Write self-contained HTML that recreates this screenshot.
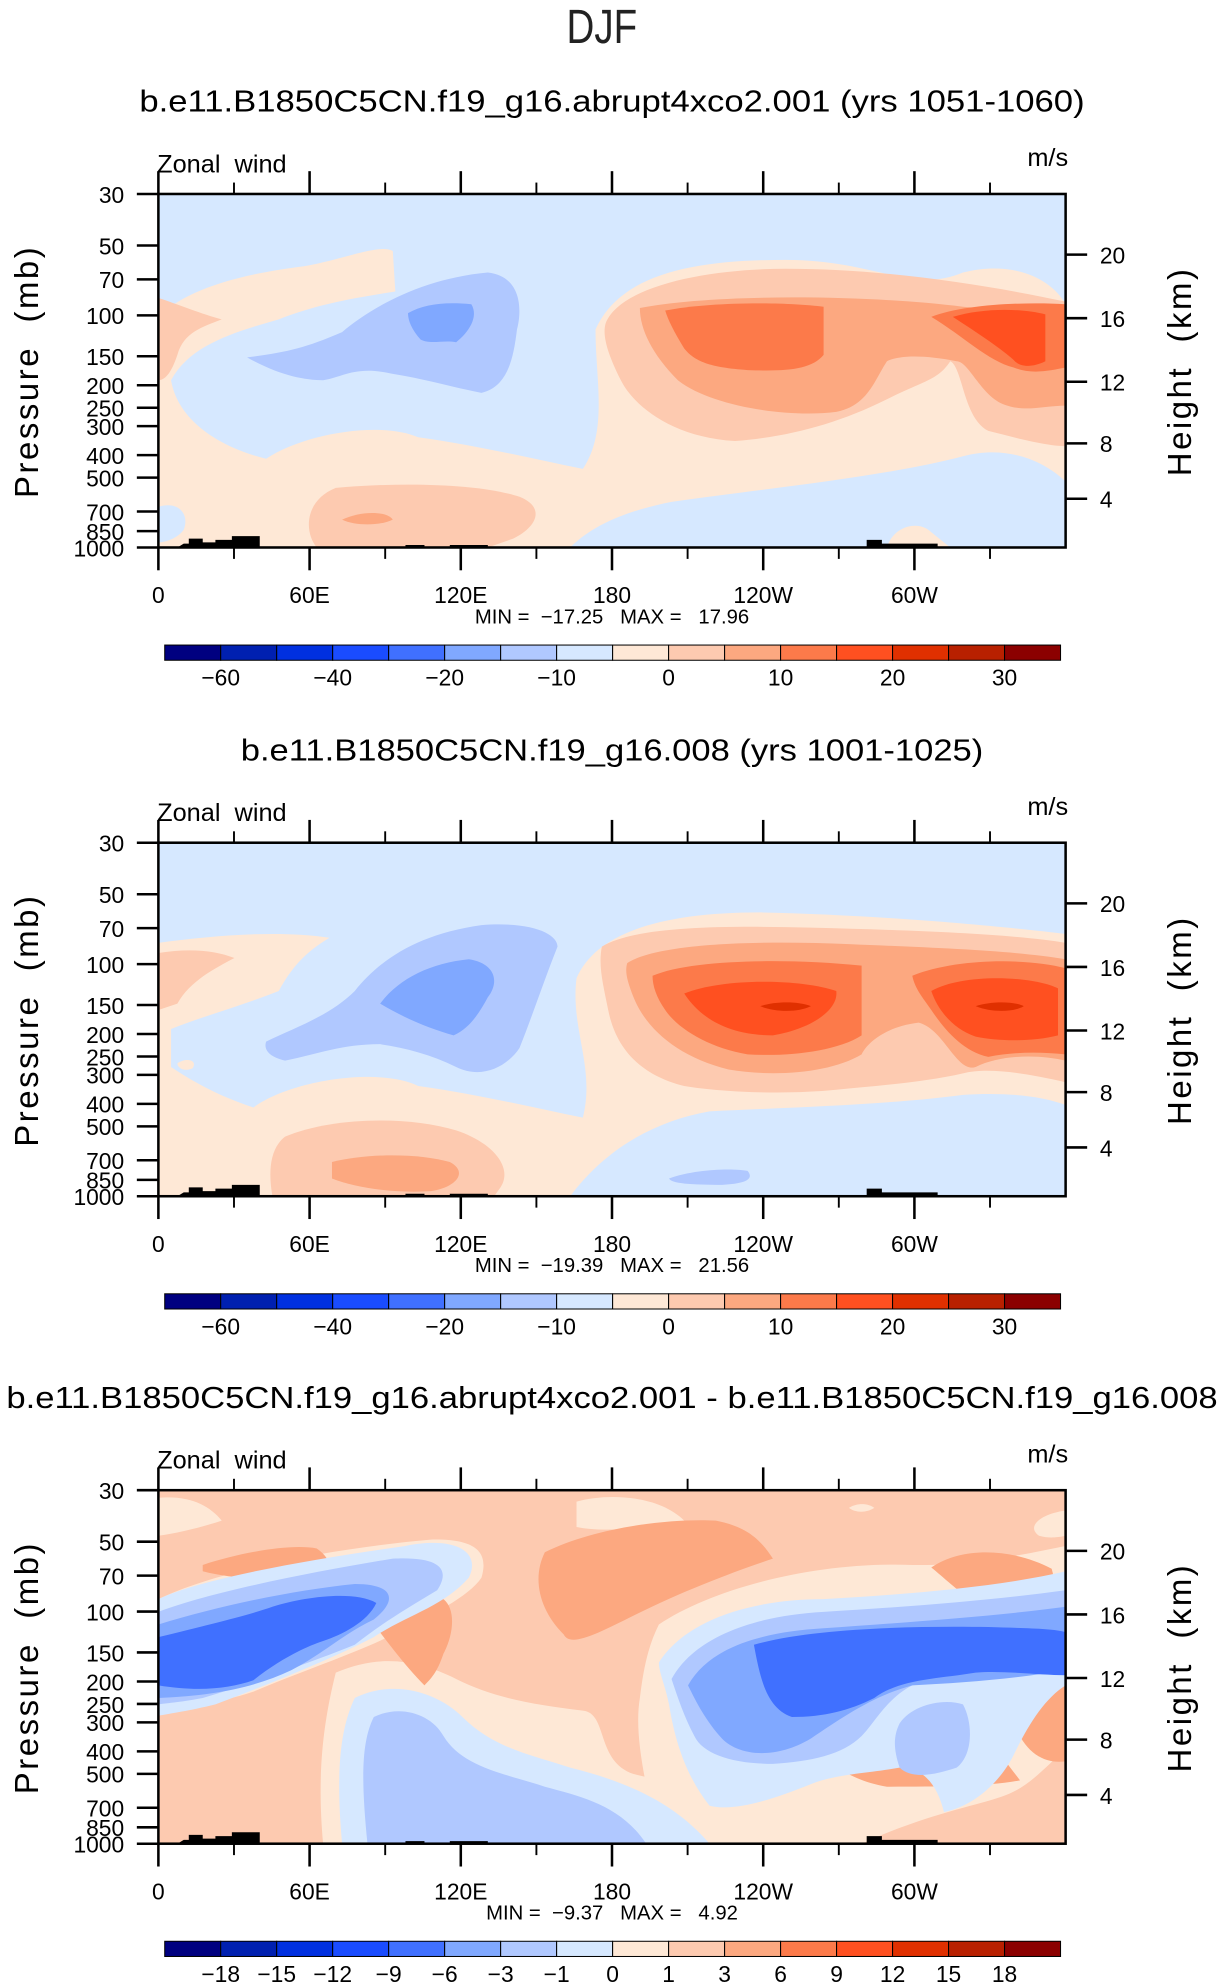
<!DOCTYPE html>
<html><head><meta charset="utf-8"><style>
html,body{margin:0;padding:0;background:#fff;}
svg{display:block;font-family:"Liberation Sans",sans-serif;}
text{white-space:pre;}
</style></head><body>
<svg id="fig" xmlns="http://www.w3.org/2000/svg" xml:space="preserve" width="1224" height="1987" viewBox="0 0 966 1568">
<text x="475" y="34" font-size="38" text-anchor="middle" font-weight="100" fill="#222" transform="translate(475,0) scale(0.8,1) translate(-475,0)">DJF</text>
<text x="483" y="88" font-size="24" text-anchor="middle" textLength="746" lengthAdjust="spacingAndGlyphs">b.e11.B1850C5CN.f19_g16.abrupt4xco2.001 (yrs 1051-1060)</text>
<text x="483" y="600" font-size="24" text-anchor="middle" textLength="586" lengthAdjust="spacingAndGlyphs">b.e11.B1850C5CN.f19_g16.008 (yrs 1001-1025)</text>
<text x="483" y="1111" font-size="24" text-anchor="middle" textLength="956" lengthAdjust="spacingAndGlyphs">b.e11.B1850C5CN.f19_g16.abrupt4xco2.001 - b.e11.B1850C5CN.f19_g16.008</text>
<defs><clipPath id="pc"><rect x="125" y="153" width="716" height="279"/></clipPath></defs>

<g clip-path="url(#pc)">
<rect x="125" y="153" width="716" height="279" fill="#d6e8ff"/>
<path fill="#fee8d6" d="M125,250 C150,225 200,215 240,210 C270,205 300,192 310,198 L312,230 C280,235 250,240 220,252 C185,262 150,272 135,300 C140,330 170,352 210,362 C240,342 300,332 330,345 C380,352 420,362 460,370 C480,340 470,300 470,260 C490,215 550,205 620,205 C690,205 720,232 760,215 C800,205 830,220 841,240 L841,380 C820,360 790,352 760,360 C700,376 600,386 530,396 C500,402 470,412 450,432 L125,432 Z"/>
<path fill="#d6e8ff" d="M125,400 C140,395 150,405 145,418 C140,425 130,428 125,428 Z"/>
<path fill="#fee8d6" d="M700,432 C705,415 725,410 735,420 L750,432 Z"/>
<path fill="#fdcab0" d="M125,235 C140,240 160,248 175,252 C160,258 145,262 140,280 C135,295 130,300 125,300 Z"/>
<path fill="#fdcab0" d="M478,255 C490,225 560,212 620,212 C700,212 780,225 841,238 L841,352 C825,352 800,345 780,340 C760,330 760,290 750,285 C740,300 730,300 700,315 C660,335 620,345 580,348 C530,345 500,320 490,300 C480,280 475,265 478,255 Z"/>
<path fill="#fdcab0" d="M265,385 C320,380 380,382 410,392 C430,400 425,415 405,425 L385,432 L250,432 C240,420 240,395 265,385 Z"/>
<path fill="#fca880" d="M505,243 C560,232 680,232 760,242 C800,245 830,250 841,255 L841,320 C825,320 810,325 795,320 C775,315 765,285 755,285 C730,280 710,280 700,285 C690,300 685,320 660,325 C620,330 560,320 535,300 C515,280 505,260 505,243 Z"/>
<path fill="#fca880" d="M270,410 C285,403 305,403 310,410 C300,415 280,415 270,410 Z"/>
<path fill="#fc7a4a" d="M525,245 C560,238 620,238 650,242 L650,280 C640,292 620,293 590,292 C560,290 548,285 540,275 C532,262 527,252 525,245 Z"/>
<path fill="#fc7a4a" d="M735,250 C760,240 810,238 841,240 L841,290 C830,292 815,296 800,290 C780,285 760,265 735,250 Z"/>
<path fill="#ff5020" d="M752,250 C775,243 805,243 825,248 L825,285 C815,290 805,290 800,284 C790,275 775,265 752,250 Z"/>
<path fill="#b0c8ff" d="M195,282 C225,278 240,275 270,262 C290,245 330,220 385,215 C412,218 412,245 408,260 C405,285 400,305 380,310 C355,305 340,300 310,295 C280,288 270,298 255,300 C240,300 220,296 195,282 Z"/>
<path fill="#80a8ff" d="M322,247 C335,240 350,238 372,240 C378,250 370,262 360,270 C350,268 340,272 332,268 C325,260 322,253 322,247 Z"/>
</g>

<g clip-path="url(#pc)" transform="translate(0,512)">
<rect x="125" y="153" width="716" height="279" fill="#d6e8ff"/>
<path fill="#fee8d6" d="M125,232 C170,226 220,222 260,228 C240,240 230,252 220,270 C190,282 160,290 135,300 L135,330 C150,340 170,352 200,362 C230,340 300,330 330,345 C380,352 420,362 460,370 C470,330 450,300 455,260 C470,225 520,208 600,208 C700,210 800,220 841,225 L841,360 C820,352 790,350 760,352 C700,360 620,362 560,365 C520,372 480,392 450,432 L125,432 Z"/>
<path fill="#fee8d6" d="M140,327 C148,322 156,325 152,331 C146,334 140,331 140,327 Z"/>
<path fill="#fdcab0" d="M125,240 C150,236 170,238 185,244 C170,252 150,262 140,280 L125,285 Z"/>
<path fill="#fdcab0" d="M475,235 C500,220 560,218 640,220 C720,222 800,225 841,232 L841,342 C810,335 780,330 760,335 C730,342 690,345 660,348 C620,352 570,350 540,345 C500,335 485,310 480,285 C476,265 472,250 475,235 Z"/>
<path fill="#fdcab0" d="M225,385 C260,370 320,368 360,380 C390,390 405,410 395,425 L390,432 L215,432 C212,415 212,395 225,385 Z"/>
<path fill="#fca880" d="M495,248 C520,232 600,230 670,233 C740,236 800,238 841,245 L841,325 C820,320 790,320 770,330 C755,335 745,300 725,295 C700,298 685,310 680,320 C655,335 610,338 575,332 C535,322 510,300 500,275 C495,262 493,255 495,248 Z"/>
<path fill="#fca880" d="M262,405 C290,398 330,398 355,405 C370,413 360,425 340,428 C310,430 280,425 262,418 Z"/>
<path fill="#fc7a4a" d="M515,258 C545,245 620,244 680,250 L680,305 C660,318 620,322 590,320 C560,315 535,300 525,285 C518,275 515,266 515,258 Z"/>
<path fill="#fc7a4a" d="M720,258 C755,244 810,244 841,252 L841,320 C820,318 800,318 780,322 C760,318 745,300 735,285 C728,275 722,268 720,258 Z"/>
<path fill="#ff5020" d="M540,272 C570,260 630,260 660,270 C662,285 640,300 610,305 C580,305 555,295 540,272 Z"/>
<path fill="#ff5020" d="M735,270 C760,256 815,258 835,268 L835,305 C815,310 790,310 770,306 C752,300 740,285 735,270 Z"/>
<path fill="#e03000" d="M600,282 C612,278 630,278 640,282 C630,287 612,287 600,282 Z"/>
<path fill="#e03000" d="M770,282 C782,278 800,278 808,282 C800,287 782,287 770,282 Z"/>
<path fill="#b0c8ff" d="M210,310 C230,300 260,290 280,270 C300,245 330,225 380,218 C420,215 440,225 440,235 C430,260 420,290 410,315 C400,330 380,340 360,330 C340,320 320,315 300,312 C270,312 250,320 225,325 C212,322 208,316 210,310 Z"/>
<path fill="#80a8ff" d="M300,280 C315,260 340,248 370,245 C390,248 395,262 385,275 C378,288 370,300 358,305 C340,300 320,292 300,280 Z"/>
<path fill="#b0c8ff" d="M528,418 C550,410 580,410 590,412 C595,418 590,422 570,423 C545,423 530,422 528,418 Z"/>
</g>

<g clip-path="url(#pc)" transform="translate(0,1023)">
<rect x="125" y="153" width="716" height="279" fill="#fdcab0"/>
<g transform="translate(0,-23)">
<path fill="#fee8d6" d="M125,182 C150,180 165,188 175,200 C160,205 140,210 125,212 Z"/>
<path fill="#fee8d6" d="M455,185 C480,178 520,180 540,200 C510,205 480,210 455,205 Z"/>
<path fill="#fee8d6" d="M841,192 C820,195 810,205 820,212 C830,215 841,212 841,212 Z"/>
<path fill="#fee8d6" d="M670,190 C676,186 685,186 690,190 C684,194 675,194 670,190 Z"/>
<path fill="#fee8d6" d="M125,262 C170,240 260,222 340,215 C380,214 385,228 380,245 C370,260 340,275 310,290 C280,305 240,318 200,335 C170,345 150,345 125,350 Z"/>
<path fill="#fee8d6" d="M520,282 C560,255 640,232 720,235 C770,236 815,225 841,220 L841,380 C825,395 810,412 790,418 C770,425 730,432 680,455 L520,455 C510,410 500,370 505,340 C508,315 512,298 520,282 Z"/>
<path fill="#fee8d6" d="M265,320 C300,305 330,310 360,325 C390,340 420,345 460,350 C480,352 470,390 500,400 C540,410 600,420 620,455 L255,455 C250,400 255,360 265,320 Z"/>
<path fill="#fca880" d="M160,235 C190,225 230,218 250,222 C262,230 262,240 255,245 C220,245 190,248 160,240 Z"/>
<path fill="#fca880" d="M430,225 C470,205 530,198 565,200 C590,205 600,215 610,230 C580,240 540,255 500,275 C470,290 450,300 445,290 C425,270 420,245 430,225 Z"/>
<path fill="#fca880" d="M290,275 C305,262 330,258 350,262 C360,270 358,290 350,305 C345,320 340,325 335,330 C320,315 305,295 290,275 Z"/>
<path fill="#fca880" d="M735,237 C760,220 800,222 830,238 C835,255 830,270 818,280 C800,282 780,275 770,265 C755,255 745,245 735,237 Z"/>
<path fill="#fca880" d="M660,345 C690,335 730,335 760,338 C770,360 790,385 805,405 C780,410 740,410 700,410 C670,405 650,390 640,370 C645,358 650,350 660,345 Z"/>
<path fill="#fca880" d="M800,360 C810,340 835,330 841,330 L841,390 C825,392 810,385 800,360 Z"/>
<path fill="#d6e8ff" d="M125,262 C160,245 250,230 320,220 C360,212 380,225 370,245 C350,268 320,275 295,292 C260,310 210,330 170,345 C150,350 135,352 125,354 Z"/>
<path fill="#b0c8ff" d="M125,272 C170,255 250,240 310,230 C350,228 355,240 345,255 C320,270 300,282 280,298 C245,312 200,328 160,340 C145,343 132,344 125,345 Z"/>
<path fill="#80a8ff" d="M125,282 C170,268 230,255 280,250 C310,250 315,262 295,278 C270,290 255,305 230,318 C200,332 170,338 125,340 Z"/>
<path fill="#4070ff" d="M125,292 C165,282 195,275 215,268 C240,260 280,255 297,265 C290,280 270,290 255,295 C240,300 220,310 200,326 C180,333 155,335 125,330 Z"/>
<path fill="#d6e8ff" d="M520,312 C540,280 590,262 650,262 C720,258 790,252 841,240 L841,330 C825,340 812,360 800,385 C790,405 770,425 745,430 C740,410 730,395 710,395 C680,400 660,400 640,408 C610,420 580,430 560,425 C540,400 532,370 528,345 C525,330 520,320 520,312 Z"/>
<path fill="#b0c8ff" d="M530,325 C548,292 595,275 650,272 C720,268 790,262 841,255 L841,295 C825,305 805,312 790,318 C770,322 740,325 720,330 C700,340 690,360 680,370 C665,385 640,390 610,392 C580,392 555,385 548,370 C540,355 535,340 530,325 Z"/>
<path fill="#b0c8ff" d="M710,360 C720,345 745,340 760,345 C768,360 768,385 755,395 C740,400 720,405 710,395 C705,380 705,370 710,360 Z"/>
<path fill="#80a8ff" d="M543,330 C560,300 600,288 650,285 C720,280 790,275 841,268 L841,318 C800,325 760,328 720,330 C690,338 665,355 640,372 C610,390 580,385 568,370 C555,355 548,340 543,330 Z"/>
<path fill="#4070ff" d="M595,298 C640,285 720,283 780,284 C810,285 830,285 841,288 L841,322 C820,322 790,318 770,320 C740,325 710,325 690,340 C670,350 650,355 625,355 C605,348 600,325 595,298 Z"/>
<path fill="#d6e8ff" d="M280,340 C310,325 345,335 365,355 C390,380 420,385 450,395 C490,405 530,420 560,455 L270,455 C265,400 268,365 280,340 Z"/>
<path fill="#b0c8ff" d="M295,355 C315,345 340,352 350,370 C365,395 400,400 430,410 C460,418 490,425 510,455 L290,455 C285,405 285,375 295,355 Z"/>
</g>
</g>

<g id="axes"></g>
</svg>
<script>
const pressureLevels = [30, 50, 70, 100, 150, 200, 250, 300, 400, 500, 700, 850, 1000];
const heightTicks = [20, 16, 12, 8, 4];
const lonMajor = [0, 60, 120, 180, 240, 300];
const lonMajorLabels = ["0", "60E", "120E", "180", "120W", "60W"];
const lonMinor = [30, 90, 150, 210, 270, 330];
const panelOffsets = [0, 512, 1023];
const minVals = ["\u221217.25", "\u221219.39", "\u22129.37"];
const maxVals = ["17.96", "21.56", "4.92"];
const cbColors = ["#000080","#0020b0","#0030e0","#1a4cff","#4070ff","#80a8ff","#b0c8ff","#d6e8ff","#fee8d6","#fdcab0","#fca880","#fc7a4a","#ff5020","#e03000","#b82000","#8b0000"];
const cbLabelsAbs = ["\u221260","","\u221240","","\u221220","","\u221210","","0","","10","","20","","30"];
const cbLabelsDiff = ["\u221218","\u221215","\u221212","\u22129","\u22126","\u22123","\u22121","0","1","3","6","9","12","15","18"];

const NS = "http://www.w3.org/2000/svg";
const X0 = 125, X1 = 841, Y0 = 153, Y1 = 432;
function xs(lon){ return X0 + lon/360*(X1-X0); }
function ys(p){ return Y0 + (Math.log10(p)-Math.log10(30))/(Math.log10(1000)-Math.log10(30))*(Y1-Y0); }
function pOfH(h){ return h <= 11 ? 1013.25*Math.pow(1-2.2557e-2*h, 5.256) : 226.3*Math.exp(-(h-11)/6.3416); }
function yh(h){ return ys(pOfH(h)); }
const axes = document.getElementById('axes');
function mk(tag, attrs, parent){ const e=document.createElementNS(NS,tag); for(const k in attrs) e.setAttribute(k,attrs[k]); (parent||axes).appendChild(e); return e; }

panelOffsets.forEach((off, pi) => {
  const g = mk('g', {transform:'translate(0,'+off+')'});
  
  
  const fr = mk('rect', {x:X0,y:Y0,width:X1-X0,height:Y1-Y0,fill:'none',stroke:'#000','stroke-width':2}, g);
  
  
  const topo = mk('path', {fill:'#000', d:'M140,432 L145,429 L149,429 L149,425 L160,425 L160,428 L170,428 L170,426 L183,426 L183,423 L205,423 L205,432 Z M320,432 L320,430 L335,430 L335,432 Z M355,432 L355,430 L385,430 L385,432 Z M684,432 L684,426 L696,426 L696,429 L740,429 L740,432 Z'}, g);
  
  
  lonMajor.forEach((lon, i) => {
    const x = xs(lon);
    mk('line', {x1:x,x2:x,y1:Y0,y2:Y0-18,stroke:'#000','stroke-width':2}, g);
    mk('line', {x1:x,x2:x,y1:Y1,y2:Y1+18,stroke:'#000','stroke-width':2}, g);
    const t = mk('text', {x:x,y:476,'font-size':18,'text-anchor':'middle'}, g);
    t.textContent = lonMajorLabels[i];
    
    
  });
  lonMinor.forEach(lon => {
    const x = xs(lon);
    mk('line', {x1:x,x2:x,y1:Y0,y2:Y0-9,stroke:'#000','stroke-width':1.5}, g);
    mk('line', {x1:x,x2:x,y1:Y1,y2:Y1+9,stroke:'#000','stroke-width':1.5}, g);
  });
  pressureLevels.forEach(p => {
    const y = ys(p);
    mk('line', {x1:X0,x2:X0-17,y1:y,y2:y,stroke:'#000','stroke-width':2}, g);
    const t = mk('text', {x:98,y:y+7,'font-size':18,'text-anchor':'end'}, g);
    t.textContent = p;
    
    
  });
  heightTicks.forEach(h => {
    const y = yh(h);
    mk('line', {x1:X1,x2:X1+17,y1:y,y2:y,stroke:'#000','stroke-width':2}, g);
    const t = mk('text', {x:868,y:y+7,'font-size':18}, g);
    t.textContent = h;
    
    
  });
  const zl = mk('text', {x:124,y:136,'font-size':20}, g);
  zl.textContent = 'Zonal  wind';
  
  
  const ul = mk('text', {x:843,y:131,'font-size':20,'text-anchor':'end'}, g);
  ul.textContent = 'm/s';
  
  
  const yl = mk('text', {x:0,y:0,'font-size':26,'text-anchor':'middle',transform:'translate(30,293) rotate(-90)','letter-spacing':'2'}, g);
  yl.textContent = 'Pressure  (mb)';
  
  
  const yr = mk('text', {x:0,y:0,'font-size':26,'text-anchor':'middle',transform:'translate(940,293) rotate(-90)','letter-spacing':'2'}, g);
  yr.textContent = 'Height  (km)';
  
  
  const mm = mk('text', {x:483,y:492,'font-size':16,'text-anchor':'middle'}, g);
  mm.textContent = 'MIN =  ' + minVals[pi] + '   MAX =   ' + maxVals[pi];
  
  
  const cb = mk('g', {}, g);
  
  
  const cx0 = 130, cw = 707/cbColors.length;
  cbColors.forEach((c, i) => {
    const r = mk('rect', {x:cx0+i*cw,y:509,width:cw,height:12,fill:c,stroke:'#000','stroke-width':0.8}, cb);
    
    
  });
  const labs = pi === 2 ? cbLabelsDiff : cbLabelsAbs;
  labs.forEach((l, i) => {
    if (!l) return;
    const t = mk('text', {x:cx0+(i+1)*cw,y:541,'font-size':18,'text-anchor':'middle'}, cb);
    t.textContent = l;
    
    
  });
});
</script>
</body></html>
